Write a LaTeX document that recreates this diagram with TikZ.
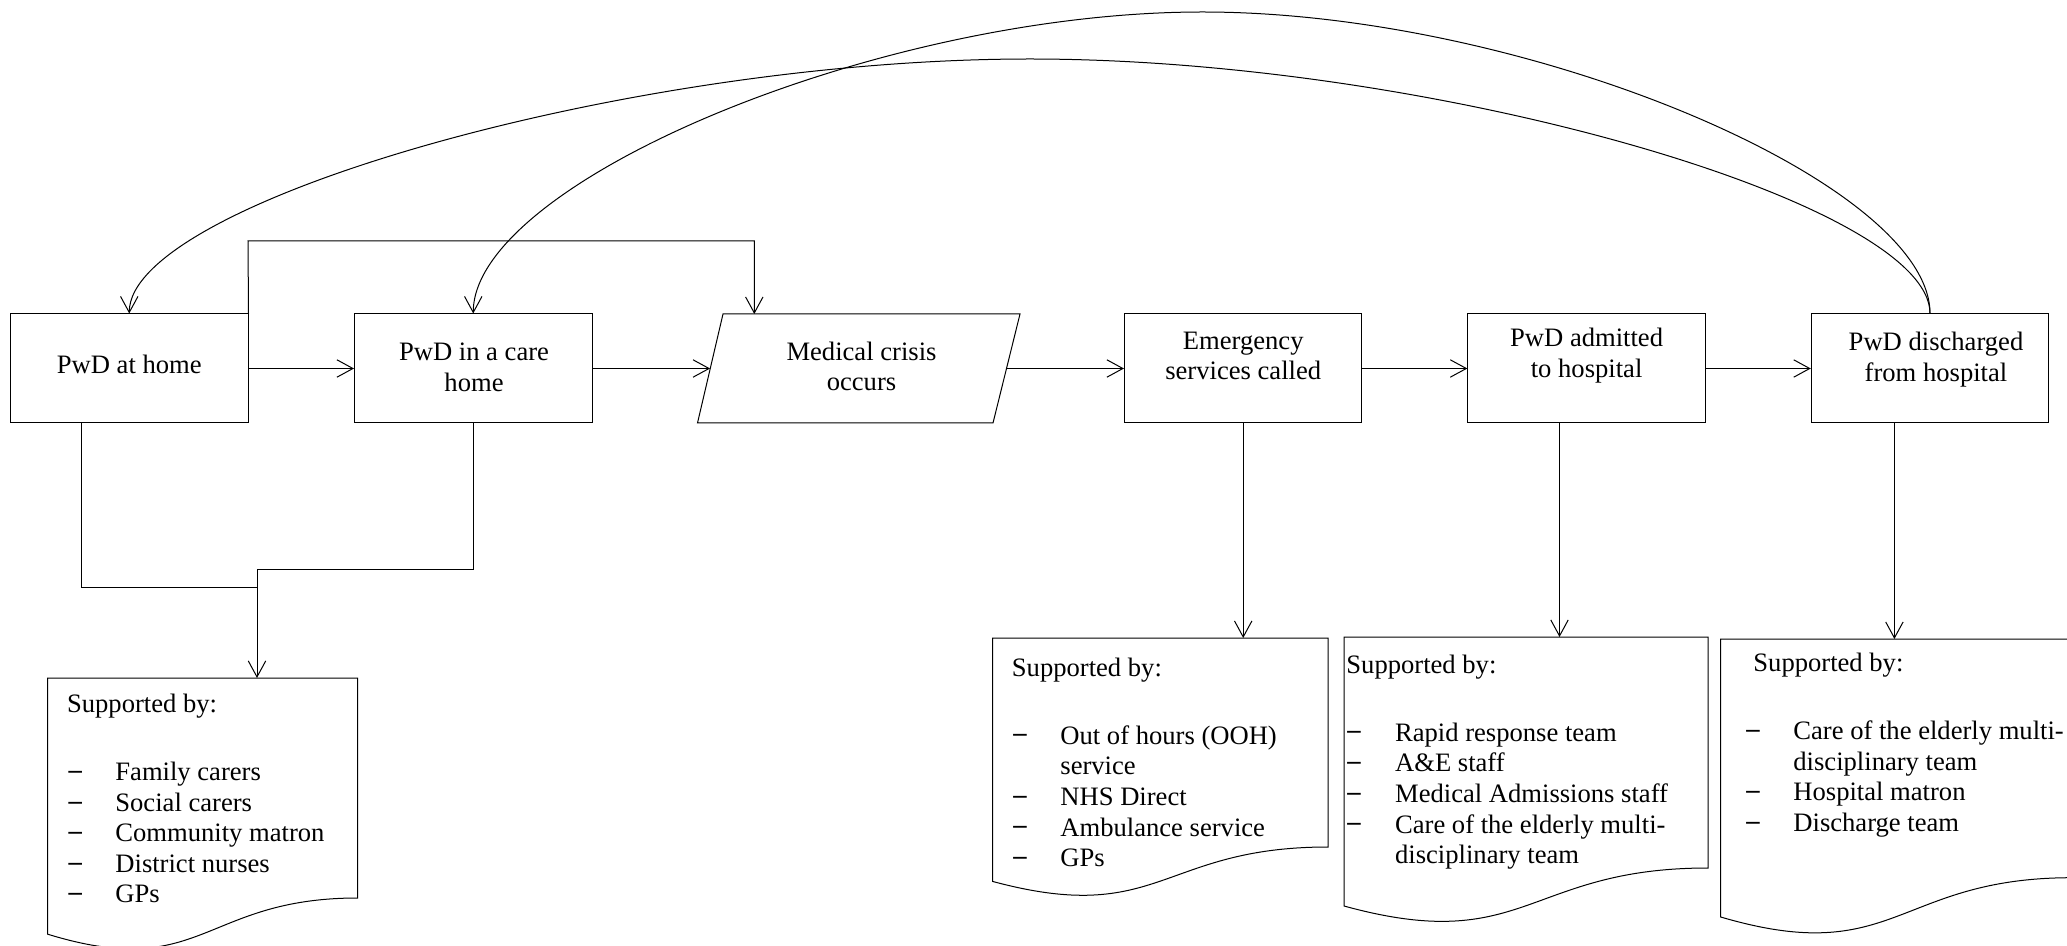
\documentclass[tikz,border=0pt]{standalone}
\usepackage{fontspec}
\setmainfont{Liberation Serif}
\usetikzlibrary{arrows.meta}
\newcommand\myfs{\fontsize{13.3}{15.35}\selectfont}
\newcommand\tline[4]{\node[txt] (#1) at (#2,#3) {#4};}
\newcommand\bul[3]{\node[txt] (#1) at (#2,#3) {\raisebox{0.08em}{\textbf{–}}};}
\begin{document}
\begin{tikzpicture}[x=0.5pt,y=-0.5pt,
  line/.style={draw=black, line width=0.5pt},
  arr/.style={line, -{Straight Barb[length=8pt,width=8.7pt]}},
  box/.style={draw=black, line width=0.5pt, minimum width=118.75pt, minimum height=54.5pt, inner sep=0pt},
  btxt/.style={inner sep=0pt, align=center, font=\myfs},
  txt/.style={inner sep=0pt, anchor=base west, font=\myfs}]
\useasboundingbox (0,0) rectangle (2067,946);

% boxes
\node[box] (b1) at (129.25,368.5) {};
\node[box] (b2) at (473.25,368.5) {};
\node[box] (b4) at (1243.2,368.5) {};
\node[box] (b5) at (1586.6,368.5) {};
\node[box] (b6) at (1930,368.5) {};
\draw[line] (723,314) -- (1020,314) -- (993,423) -- (697.5,423) -- cycle;
\coordinate (pL) at (710.1,368.5);
\coordinate (pR) at (1006.4,368.5);

% box texts
\node[btxt] (t1) at (129.25,364.1) {PwD at home};
\node[btxt] (t2) at (474,367.3) {PwD in a care\\home};
\node[btxt] (t3) at (861.5,366.3) {Medical crisis\\occurs};
\node[btxt] (t4) at (1243.2,355.8) {Emergency\\services called};
\node[btxt] (t5) at (1586.6,355.7) {PwD admitted\\to hospital};
\node[btxt] (t6) at (1936,359.7) {PwD discharged\\from hospital};

% horizontal arrows
\draw[arr] (b1.east) -- (b2.west);
\draw[arr] (b2.east) -- (pL);
\draw[arr] (pR) -- (b4.west);
\draw[arr] (b4.east) -- (b5.west);
\draw[arr] (b5.east) -- (b6.west);

% top elbow
\coordinate (pTop) at (754.3,314);
\coordinate (j1) at (248,241);
\draw[arr] (b1.north east) -- (j1) -| (pTop);

% long curves
\coordinate (pkA) at (1030,59);
\draw[arr] (b6.north) .. controls (1930,203) and (1433,59) .. (pkA) .. controls (627,59) and (129.25,203) .. (b1.north);
\coordinate (pkB) at (1202.5,12);
\draw[arr] (b6.north) .. controls (1930,183) and (1527.5,12) .. (pkB) .. controls (877.5,12) and (473.25,183) .. (b2.north);

% lower elbows
\coordinate (b1s) at (81.3,423);
\coordinate (m1) at (257,587);
\coordinate (b2s) at (473.3,423);
\coordinate (m2) at (257,569);
\coordinate (d1t) at (257,678);
\draw[line] (b1s) |- (m1);
\draw[line] (b2s) |- (m2);
\draw[arr] (m2) -- (d1t);

% vertical arrows
\coordinate (d2t) at (1243.2,638);
\draw[arr] (b4.south) -- (d2t);
\coordinate (b5s) at (1559.5,423);
\coordinate (d3t) at (1559.5,637);
\draw[arr] (b5s) -- (d3t);
\coordinate (b6s) at (1894.4,423);
\coordinate (d4t) at (1894.4,639);
\draw[arr] (b6s) -- (d4t);

% documents
\draw[line] (47.7,678) -- (357.7,678) -- (357.7,898) .. controls (202.7,898) and (202.7,981.8) .. (47.7,934.2) -- cycle;
\draw[line] (992.5,638) -- (1328,638) -- (1328,847) .. controls (1160.25,847) and (1160.25,926.6) .. (992.5,881.4) -- cycle;
\draw[line] (1344,637) -- (1708,637) -- (1708,868) .. controls (1526,868) and (1526,956) .. (1344,906) -- cycle;
\draw[line] (1720.7,639) -- (2072,639) -- (2072,877.7) .. controls (1896,877.7) and (1896,968.6) .. (1720.7,917) -- cycle;

% doc 1 text
\tline{s1}{66.7}{712.7}{Supported by:}
\bul{u1a}{68.3}{780.7} \tline{i1a}{115}{780.7}{Family carers}
\bul{u1b}{68.3}{811.2} \tline{i1b}{115}{811.2}{Social carers}
\bul{u1c}{68.3}{841.7} \tline{i1c}{115}{841.7}{Community matron}
\bul{u1d}{68.3}{872.2} \tline{i1d}{115}{872.2}{District nurses}
\bul{u1e}{68.3}{902.7} \tline{i1e}{115}{902.7}{GPs}

% doc 2 text
\tline{s2}{1011.5}{676.7}{Supported by:}
\bul{u2a}{1013}{744} \tline{i2a}{1060}{744}{Out of hours (OOH)}
\tline{i2b}{1060}{774.7}{service}
\bul{u2c}{1013}{805.4} \tline{i2c}{1060}{805.4}{NHS Direct}
\bul{u2d}{1013}{836.1} \tline{i2d}{1060}{836.1}{Ambulance service}
\bul{u2e}{1013}{866.8} \tline{i2e}{1060}{866.8}{GPs}

% doc 3 text
\tline{s3}{1346}{673.5}{Supported by:}
\bul{u3a}{1347}{741} \tline{i3a}{1394.7}{741}{Rapid response team}
\bul{u3b}{1347}{771.7} \tline{i3b}{1394.7}{771.7}{A\&E staff}
\bul{u3c}{1347}{802.4} \tline{i3c}{1394.7}{802.4}{Medical Admissions staff}
\bul{u3d}{1347}{833.1} \tline{i3d}{1394.7}{833.1}{Care of the elderly multi-}
\tline{i3e}{1394.7}{863.8}{disciplinary team}

% doc 4 text
\tline{s4}{1753}{671}{Supported by:}
\bul{u4a}{1746}{739.5} \tline{i4a}{1793}{739.5}{Care of the elderly multi-}
\tline{i4b}{1793}{770.2}{disciplinary team}
\bul{u4c}{1746}{800.9} \tline{i4c}{1793}{800.9}{Hospital matron}
\bul{u4d}{1746}{831.6} \tline{i4d}{1793}{831.6}{Discharge team}
\end{tikzpicture}
\end{document}
